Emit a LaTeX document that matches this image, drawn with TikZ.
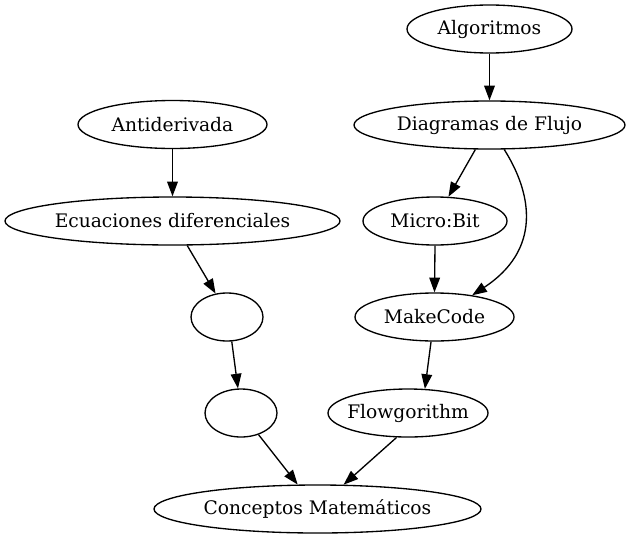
\documentclass[tikz,border=0pt]{standalone}
\usepackage{fontspec}
\setmainfont{DejaVu Serif}
\usetikzlibrary{shapes.geometric,arrows.meta}
\tikzset{
  el/.style={ellipse, draw, line width=1pt, inner sep=0pt, minimum height=36pt, font=\fontsize{14}{16}\selectfont},
  edge/.style={-{Triangle[length=11pt,width=8pt]}, line width=1pt}
}
\newcommand{\lbl}[1]{\makebox[0pt]{#1}}
\begin{document}
\begin{tikzpicture}[x=0.75pt,y=-0.75pt]
\useasboundingbox (0,0) rectangle (630,539);
\node[el, minimum width=165*0.75pt] (alg) at (489.5,29) {\lbl{Algoritmos}};
\node[el, minimum width=271*0.75pt] (diag) at (489.5,125) {\lbl{Diagramas de Flujo}};
\node[el, minimum width=189*0.75pt] (anti) at (172.5,124.5) {\lbl{Antiderivada}};
\node[el, minimum width=335*0.75pt] (ecu) at (172.5,221) {\lbl{Ecuaciones diferenciales}};
\node[el, minimum width=144*0.75pt] (micro) at (435,221) {\lbl{Micro:Bit}};
\node[el, minimum width=72*0.75pt] (e1) at (227,317) {\lbl{}};
\node[el, minimum width=159*0.75pt] (mk) at (434.5,317) {\lbl{MakeCode}};
\node[el, minimum width=72*0.75pt] (e2) at (241,413) {\lbl{}};
\node[el, minimum width=160*0.75pt] (fl) at (408,413) {\lbl{Flowgorithm}};
\node[el, minimum width=327*0.75pt] (cm) at (317.5,509) {\lbl{Conceptos Matemáticos}};
\draw[edge] (alg.south) -- (diag.north);
\draw[edge] (anti.south) -- (ecu.north);
\draw[edge] (diag.240.6) -- (micro.61.6);
\draw[edge] (diag.301) .. controls (533,195) and (541,250) .. (mk.30);
\draw[edge] (micro.south) -- (mk.north);
\draw[edge] (ecu.301) -- (e1.116.6);
\draw[edge] (e1.281.8) -- (e2.97);
\draw[edge] (mk.262) -- (fl.55);
\draw[edge] (e2.309) -- (cm.129);
\draw[edge] (fl.245) -- (cm.43);
\end{tikzpicture}
\end{document}
